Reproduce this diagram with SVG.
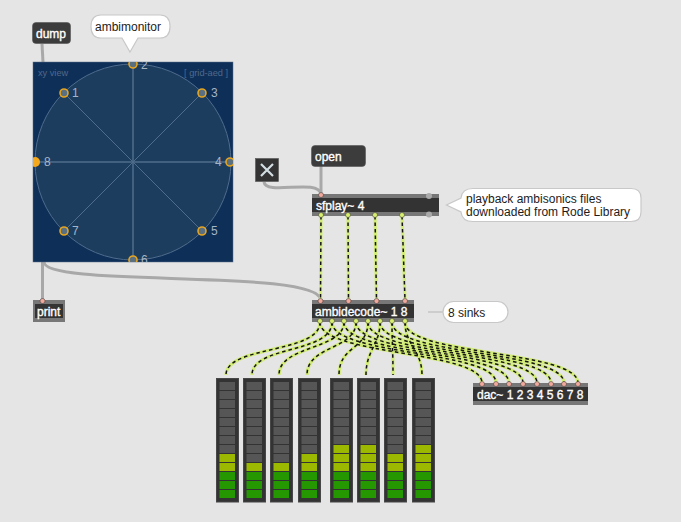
<svg xmlns="http://www.w3.org/2000/svg" width="681" height="522" viewBox="0 0 681 522">
<style>
text{font-family:"Liberation Sans",Arial,sans-serif}
.lbl{font-size:12px;fill:#fff;stroke:#fff;stroke-width:.35px}
.cmt{font-size:12px;fill:#1c1c1c}
.btn{fill:#3c3c3c;stroke:#555;stroke-width:.6}
.band{fill:#777}
.body{fill:#333}
.bub{fill:#fff;stroke:#c8c8c8;stroke-width:1.2}
.cab{fill:none;stroke:#a8a8a8;stroke-width:3}
.sb{fill:none;stroke:#d2ec78;stroke-width:3.2}
.sd{fill:none;stroke:#141414;stroke-width:1.5;stroke-dasharray:3.5 3}
.in{fill:#f0a99c;stroke:#333;stroke-width:.5}
.ou{fill:#d8ee70;stroke:#333;stroke-width:.5}
.grn{fill:#259700}.yel{fill:#9db800}.off{fill:#565656}
.mb{fill:#333;stroke:#474747;stroke-width:1}
.num{font-size:12px;fill:#a5b5c8}
.tag{font-size:9.200px;fill:#51698a}
.spk{fill:#5a6f7f;stroke:#e6a520;stroke-width:1.6}
.grid{stroke:#4f6c8c;fill:none}
</style>
<defs>
<g id="s"><rect x="3.5" width="15.5" height="8"/></g>
<clipPath id="pc"><rect x="33" y="62" width="200" height="200"/></clipPath>
</defs>
<rect width="681" height="522" fill="#e5e5e5"/>

<g id="connectors">
<path class="cab" d="M42 44L43 62"/>
<path class="cab" d="M42.500 262L42.500 300"/>
<path class="cab" d="M44 262C44 288 320 268 320.500 300"/>
<path class="cab" d="M264 182C266 196 318 178 321 194"/>
<path class="cab" d="M321 166L321 194"/>
<g id="audio-base">
<path class="sb" d="M321 216L320.500 300"/><path class="sb" d="M348 216L348.500 300"/><path class="sb" d="M375 216L376.500 300"/><path class="sb" d="M402 216L405 300"/>
<path class="sb" d="M320 322C320 354 226 345 226 375"/><path class="sb" d="M332 322C332 354 252 345 252 375"/><path class="sb" d="M344 322C344 350 279 345 279 375"/><path class="sb" d="M356 322C356 350 307 345 307 375"/><path class="sb" d="M368 322C368 350 339 345 339 375"/><path class="sb" d="M380 322C380 345 366 350 366 375"/><path class="sb" d="M392 322C392 345 393 350 393 375"/><path class="sb" d="M405 322C405 345 422 350 422 375"/>
<path class="sb" d="M320 322C320 356 482 350 482 383"/><path class="sb" d="M332 322C332 356 496 350 496 383"/><path class="sb" d="M344 322C344 356 509 350 509 383"/><path class="sb" d="M356 322C356 356 523 350 523 383"/><path class="sb" d="M368 322C368 356 537 350 537 383"/><path class="sb" d="M380 322C380 356 551 350 551 383"/><path class="sb" d="M392 322C392 356 564 350 564 383"/><path class="sb" d="M405 322C405 356 578 350 578 383"/>
</g>
<g id="audio-dash">
<path class="sd" d="M321 216L320.500 300"/><path class="sd" d="M348 216L348.500 300"/><path class="sd" d="M375 216L376.500 300"/><path class="sd" d="M402 216L405 300"/>
<path class="sd" d="M320 322C320 354 226 345 226 375"/><path class="sd" d="M332 322C332 354 252 345 252 375"/><path class="sd" d="M344 322C344 350 279 345 279 375"/><path class="sd" d="M356 322C356 350 307 345 307 375"/><path class="sd" d="M368 322C368 350 339 345 339 375"/><path class="sd" d="M380 322C380 345 366 350 366 375"/><path class="sd" d="M392 322C392 345 393 350 393 375"/><path class="sd" d="M405 322C405 345 422 350 422 375"/>
<path class="sd" d="M320 322C320 356 482 350 482 383"/><path class="sd" d="M332 322C332 356 496 350 496 383"/><path class="sd" d="M344 322C344 356 509 350 509 383"/><path class="sd" d="M356 322C356 356 523 350 523 383"/><path class="sd" d="M368 322C368 356 537 350 537 383"/><path class="sd" d="M380 322C380 356 551 350 551 383"/><path class="sd" d="M392 322C392 356 564 350 564 383"/><path class="sd" d="M405 322C405 356 578 350 578 383"/>
</g>
</g>

<g id="dump"><rect class="btn" x="32.500" y="22.500" width="38" height="21" rx="3.500"/><text class="lbl" x="36" y="37.500">dump</text></g>

<g id="comment-ambimonitor"><path class="bub" d="M101 15H160Q170 15 170 26.500Q170 38 160 38H138L130 52L122 38H101Q91 38 91 26.500Q91 15 101 15Z"/><text class="cmt" x="95" y="30.500">ambimonitor</text></g>

<g id="ambimonitor">
<rect x="33" y="62" width="200" height="200" fill="#0e2f58" stroke="#5d7188" stroke-width=".5"/>
<g clip-path="url(#pc)">
<circle class="grid" cx="133" cy="162" r="98" style="fill:#1d3d5f"/>
<path class="grid" d="M64 93L202 231M202 93L64 231"/>
<path class="grid" stroke-width="1.500" style="stroke-width:1.500px" d="M133 64V260M35 162H231"/>
<circle class="spk" cx="64" cy="93" r="4"/><circle class="spk" cx="133" cy="64" r="4"/><circle class="spk" cx="202" cy="93" r="4"/><circle class="spk" cx="230" cy="162" r="4"/><circle class="spk" cx="202" cy="231" r="4"/><circle class="spk" cx="133" cy="260" r="4"/><circle class="spk" cx="64" cy="231" r="4"/>
<circle cx="35" cy="162" r="5" fill="#f5a81c"/>
<text class="num" x="72" y="97">1</text><text class="num" x="141" y="69">2</text><text class="num" x="211" y="97">3</text><text class="num" x="215" y="166">4</text><text class="num" x="211" y="235">5</text><text class="num" x="141" y="264">6</text><text class="num" x="72" y="235">7</text><text class="num" x="44" y="166">8</text>
<text class="tag" x="38" y="76">xy view</text><text class="tag" x="228" y="76" text-anchor="end">[ grid-aed ]</text>
</g>
</g>

<g id="print"><rect class="band" x="33" y="300" width="32" height="22"/><rect class="body" x="35" y="304" width="28" height="14"/><text class="lbl" x="37" y="315.500">print</text><circle class="in" cx="42.500" cy="301" r="2.500"/></g>

<g id="toggle"><rect x="255.500" y="158.500" width="23" height="23" fill="#333" stroke="#555" stroke-width=".6"/><path d="M261 164L273 176M273 164L261 176" stroke="#d3dee3" stroke-width="2.200" fill="none"/></g>

<g id="open"><rect class="btn" x="311.500" y="145.500" width="54" height="21" rx="3.500"/><text class="lbl" x="315" y="161">open</text></g>

<g id="sfplay"><rect class="band" x="312" y="194" width="127" height="22"/><rect class="body" x="312" y="198" width="127" height="14"/><text class="lbl" x="316" y="209.500">sfplay~ 4</text>
<circle class="in" cx="321" cy="195" r="2.500"/><circle cx="429" cy="196" r="3" fill="#aaa"/>
<circle class="ou" cx="321" cy="215" r="2.500"/><circle class="ou" cx="348" cy="215" r="2.500"/><circle class="ou" cx="375" cy="215" r="2.500"/><circle class="ou" cx="402" cy="215" r="2.500"/><circle cx="429" cy="214.500" r="3" fill="#aaa"/></g>

<g id="comment-playback"><path class="bub" d="M473 188.500H631Q641 188.500 641 198V212Q641 221.500 631 221.500H473Q462 221.500 461 212L446.500 205L461 198Q462 188.500 473 188.500Z"/><text class="cmt" x="466" y="203">playback ambisonics files</text><text class="cmt" x="466" y="216">downloaded from Rode Library</text></g>

<g id="ambidecode"><rect class="band" x="312" y="300" width="102" height="22"/><rect class="body" x="312" y="304" width="102" height="14"/><text class="lbl" x="315" y="315.500">ambidecode~ 1 8</text>
<circle class="in" cx="320.500" cy="301" r="2.500"/><circle class="in" cx="348.500" cy="301" r="2.500"/><circle class="in" cx="376.500" cy="301" r="2.500"/><circle class="in" cx="405" cy="301" r="2.500"/>
<circle class="ou" cx="320" cy="321" r="2.500"/><circle class="ou" cx="332" cy="321" r="2.500"/><circle class="ou" cx="344" cy="321" r="2.500"/><circle class="ou" cx="356" cy="321" r="2.500"/><circle class="ou" cx="368" cy="321" r="2.500"/><circle class="ou" cx="380" cy="321" r="2.500"/><circle class="ou" cx="392" cy="321" r="2.500"/><circle class="ou" cx="405" cy="321" r="2.500"/></g>

<g id="comment-sinks"><path d="M428 312H443" stroke="#c4c4c4" stroke-width="1.500"/><rect class="bub" x="443" y="301.500" width="65" height="21" rx="10.500"/><text class="cmt" x="448" y="316.500">8 sinks</text></g>

<g id="dac"><rect class="band" x="473" y="383" width="115" height="22"/><rect class="body" x="473" y="387" width="115" height="14"/><text class="lbl" x="477" y="398.500">dac~ 1 2 3 4 5 6 7 8</text>
<circle class="in" cx="482" cy="384" r="2.500"/><circle class="in" cx="496" cy="384" r="2.500"/><circle class="in" cx="509" cy="384" r="2.500"/><circle class="in" cx="523" cy="384" r="2.500"/><circle class="in" cx="537" cy="384" r="2.500"/><circle class="in" cx="551" cy="384" r="2.500"/><circle class="in" cx="564" cy="384" r="2.500"/><circle class="in" cx="578" cy="384" r="2.500"/></g>

<g id="meter1" transform="translate(216 378)"><rect class="mb" x=".5" y=".5" width="22" height="123.500"/><use class="off" href="#s" y="4"/><use class="off" href="#s" y="13"/><use class="off" href="#s" y="22"/><use class="off" href="#s" y="31"/><use class="off" href="#s" y="40"/><use class="off" href="#s" y="49"/><use class="off" href="#s" y="58"/><use class="off" href="#s" y="67"/><use class="yel" href="#s" y="76"/><use class="yel" href="#s" y="85"/><use class="grn" href="#s" y="94"/><use class="grn" href="#s" y="103"/><use class="grn" href="#s" y="112"/></g>
<g id="meter2" transform="translate(243 378)"><rect class="mb" x=".5" y=".5" width="22" height="123.500"/><use class="off" href="#s" y="4"/><use class="off" href="#s" y="13"/><use class="off" href="#s" y="22"/><use class="off" href="#s" y="31"/><use class="off" href="#s" y="40"/><use class="off" href="#s" y="49"/><use class="off" href="#s" y="58"/><use class="off" href="#s" y="67"/><use class="off" href="#s" y="76"/><use class="yel" href="#s" y="85"/><use class="grn" href="#s" y="94"/><use class="grn" href="#s" y="103"/><use class="grn" href="#s" y="112"/></g>
<g id="meter3" transform="translate(270 378)"><rect class="mb" x=".5" y=".5" width="22" height="123.500"/><use class="off" href="#s" y="4"/><use class="off" href="#s" y="13"/><use class="off" href="#s" y="22"/><use class="off" href="#s" y="31"/><use class="off" href="#s" y="40"/><use class="off" href="#s" y="49"/><use class="off" href="#s" y="58"/><use class="off" href="#s" y="67"/><use class="off" href="#s" y="76"/><use class="yel" href="#s" y="85"/><use class="grn" href="#s" y="94"/><use class="grn" href="#s" y="103"/><use class="grn" href="#s" y="112"/></g>
<g id="meter4" transform="translate(298 378)"><rect class="mb" x=".5" y=".5" width="22" height="123.500"/><use class="off" href="#s" y="4"/><use class="off" href="#s" y="13"/><use class="off" href="#s" y="22"/><use class="off" href="#s" y="31"/><use class="off" href="#s" y="40"/><use class="off" href="#s" y="49"/><use class="off" href="#s" y="58"/><use class="off" href="#s" y="67"/><use class="yel" href="#s" y="76"/><use class="yel" href="#s" y="85"/><use class="grn" href="#s" y="94"/><use class="grn" href="#s" y="103"/><use class="grn" href="#s" y="112"/></g>
<g id="meter5" transform="translate(330 378)"><rect class="mb" x=".5" y=".5" width="22" height="123.500"/><use class="off" href="#s" y="4"/><use class="off" href="#s" y="13"/><use class="off" href="#s" y="22"/><use class="off" href="#s" y="31"/><use class="off" href="#s" y="40"/><use class="off" href="#s" y="49"/><use class="off" href="#s" y="58"/><use class="yel" href="#s" y="67"/><use class="yel" href="#s" y="76"/><use class="yel" href="#s" y="85"/><use class="grn" href="#s" y="94"/><use class="grn" href="#s" y="103"/><use class="grn" href="#s" y="112"/></g>
<g id="meter6" transform="translate(357 378)"><rect class="mb" x=".5" y=".5" width="22" height="123.500"/><use class="off" href="#s" y="4"/><use class="off" href="#s" y="13"/><use class="off" href="#s" y="22"/><use class="off" href="#s" y="31"/><use class="off" href="#s" y="40"/><use class="off" href="#s" y="49"/><use class="off" href="#s" y="58"/><use class="yel" href="#s" y="67"/><use class="yel" href="#s" y="76"/><use class="yel" href="#s" y="85"/><use class="grn" href="#s" y="94"/><use class="grn" href="#s" y="103"/><use class="grn" href="#s" y="112"/></g>
<g id="meter7" transform="translate(384 378)"><rect class="mb" x=".5" y=".5" width="22" height="123.500"/><use class="off" href="#s" y="4"/><use class="off" href="#s" y="13"/><use class="off" href="#s" y="22"/><use class="off" href="#s" y="31"/><use class="off" href="#s" y="40"/><use class="off" href="#s" y="49"/><use class="off" href="#s" y="58"/><use class="off" href="#s" y="67"/><use class="yel" href="#s" y="76"/><use class="yel" href="#s" y="85"/><use class="grn" href="#s" y="94"/><use class="grn" href="#s" y="103"/><use class="grn" href="#s" y="112"/></g>
<g id="meter8" transform="translate(412 378)"><rect class="mb" x=".5" y=".5" width="22" height="123.500"/><use class="off" href="#s" y="4"/><use class="off" href="#s" y="13"/><use class="off" href="#s" y="22"/><use class="off" href="#s" y="31"/><use class="off" href="#s" y="40"/><use class="off" href="#s" y="49"/><use class="off" href="#s" y="58"/><use class="yel" href="#s" y="67"/><use class="yel" href="#s" y="76"/><use class="yel" href="#s" y="85"/><use class="grn" href="#s" y="94"/><use class="grn" href="#s" y="103"/><use class="grn" href="#s" y="112"/></g>
</svg>
